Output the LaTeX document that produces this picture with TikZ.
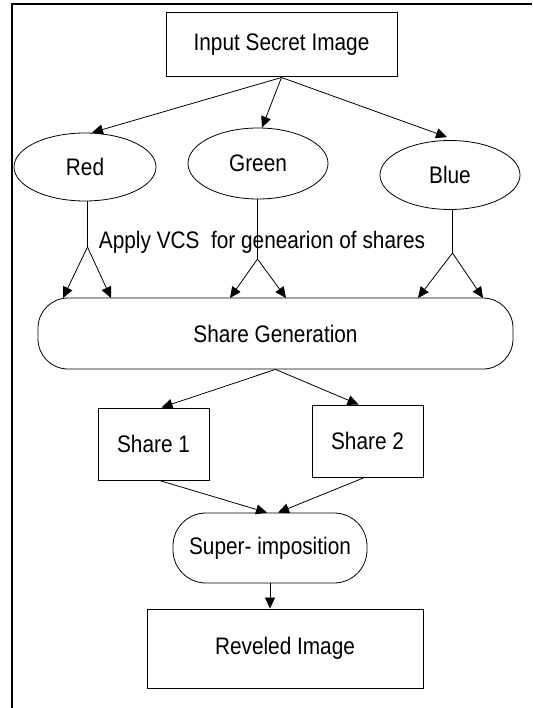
\documentclass[tikz,border=0pt]{standalone}
\usepackage{fontspec}
\setmainfont{Liberation Sans}
\usetikzlibrary{shapes.geometric,arrows.meta}
\newcommand{\mytxt}[1]{\scalebox{1}[1.15]{#1}}
\begin{document}
\begin{tikzpicture}[x=1pt,y=-1pt,
  every node/.style={font=\fontsize{20.8}{24}\selectfont, inner sep=0pt},
  boxnode/.style={draw, line width=1pt},
  ellnode/.style={draw, ellipse, line width=0.8pt},
  arr/.style={-{Triangle[length=11pt,width=10pt]}, line width=0.8pt},
  ln/.style={line width=0.9pt}]
\useasboundingbox (0,0) rectangle (532,708);
\fill[white] (0,0) rectangle (532,708);
\draw[line width=1.2pt] (12,708) -- (12,4) -- (532,4);

\node[boxnode, minimum width=231pt, minimum height=64pt] (In) at (281.5,45) {\mytxt{Input Secret Image}};
\node[ellnode, minimum width=142pt, minimum height=68pt] (Red) at (85,167) {\mytxt{Red}};
\node[ellnode, minimum width=140pt, minimum height=71pt] (Green) at (258,163.5) {\mytxt{Green}};
\node[ellnode, minimum width=140pt, minimum height=69pt] (Blue) at (450,175) {\mytxt{Blue}};

\node (Apply) at (262,242) {\mytxt{Apply VCS\ \ for genearion of shares}};

\node[draw, line width=0.8pt, rounded corners=30pt, minimum width=475pt, minimum height=71pt] (SG) at (275.5,333.5) {\mytxt{Share Generation}};

\node[boxnode, minimum width=111pt, minimum height=72pt] (S1) at (153.5,444) {\mytxt{Share 1}};
\node[boxnode, minimum width=111pt, minimum height=72pt] (S2) at (367.5,441) {\mytxt{Share 2}};

\node[draw, line width=0.8pt, rounded corners=33pt, minimum width=194pt, minimum height=70pt] (Sup) at (270,548) {\mytxt{Super- imposition}};

\node[boxnode, minimum width=276pt, minimum height=79pt] (Rev) at (285,648.5) {\mytxt{Reveled Image}};

% top arrows
\draw[arr] (In.south) -- ([xshift=7pt]Red.north);
\draw[arr] (In.south) -- ([xshift=4pt]Green.north);
\draw[arr] (In.south) -- ([xshift=-3pt,yshift=3pt]Blue.north);

% apex coordinates
\coordinate (ra) at (87.5,247);
\coordinate (ga) at (257.5,259);
\coordinate (ba) at (452.5,253);
\coordinate (r1) at (63,298);
\coordinate (r2) at (111,298);
\coordinate (g1) at (230,298);
\coordinate (g2) at (286,298);
\coordinate (b1) at (418,298);
\coordinate (b2) at (483,298);

\draw[ln] (ra |- Red.south) -- (ra);
\draw[ln] (ga |- Green.south) -- (ga);
\draw[ln] (ba |- Blue.south) -- (ba);
\draw[arr] (ra) -- (r1);
\draw[arr] (ra) -- (r2);
\draw[arr] (ga) -- (g1);
\draw[arr] (ga) -- (g2);
\draw[arr] (ba) -- (b1);
\draw[arr] (ba) -- (b2);

% share generation to shares
\draw[arr] (SG.south) -- ([xshift=8pt]S1.north);
\draw[arr] (SG.south) -- ([xshift=-9pt]S2.north);

% shares to superimposition
\draw[arr] ([xshift=6pt]S1.south) -- ([xshift=-3pt]Sup.north);
\draw[arr] ([xshift=-3pt]S2.south) -- ([xshift=8pt]Sup.north);

% super to revealed
\draw[arr] (Sup.south) -- (Sup.south |- Rev.north);
\end{tikzpicture}
\end{document}
